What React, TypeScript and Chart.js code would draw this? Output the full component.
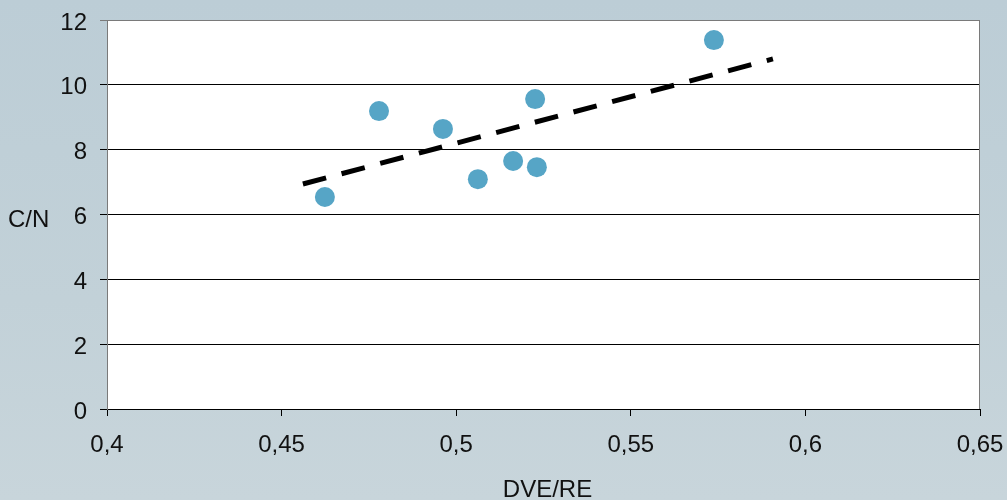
import React, { useEffect, useRef } from "react";
import { Chart, registerables } from "chart.js";

Chart.register(...registerables);

const xValues = [0.4624, 0.4779, 0.4962, 0.5062, 0.5163, 0.5226, 0.5231, 0.5738];
const yValues = [6.54, 9.19, 8.64, 7.09, 7.65, 9.56, 7.46, 11.38];
const trendX = [0.4561, 0.5907];
const trendY = [6.94, 10.8];
const xTicks = [0.4, 0.45, 0.5, 0.55, 0.6, 0.65];
const yTicks = [0, 2, 4, 6, 8, 10, 12];
const xTitle = "DVE/RE";
const yTitle = "C/N";

const FONT = "'Liberation Sans', Arial, sans-serif";
const FS = 24;

const fmt = (v: number) => Number(v.toFixed(2)).toString().replace(".", ",");

const framePlugin = {
  id: "framePlugin",
  beforeDraw(chart: any) {
    const { ctx, chartArea } = chart;
    ctx.save();
    ctx.fillStyle = "#ffffff";
    ctx.fillRect(chartArea.left, chartArea.top, chartArea.right - chartArea.left, chartArea.bottom - chartArea.top);
    ctx.restore();
  },
  afterDraw(chart: any) {
    const { ctx, chartArea } = chart;
    ctx.save();
    ctx.strokeStyle = "#7a7a7a";
    ctx.lineWidth = 1;
    ctx.beginPath();
    const rx = Math.round(chartArea.right) - 0.5;
    ctx.moveTo(rx, chartArea.top);
    ctx.lineTo(rx, chartArea.bottom);
    ctx.stroke();
    ctx.fillStyle = "#111111";
    ctx.font = `${FS}px ${FONT}`;
    ctx.textAlign = "left";
    ctx.textBaseline = "alphabetic";
    ctx.fillText(yTitle, 8, 227);
    ctx.textAlign = "center";
    ctx.fillText(xTitle, (chartArea.left + chartArea.right) / 2 + 4, 497);
    ctx.restore();
  },
};

export default function App() {
  const ref = useRef<HTMLCanvasElement | null>(null);
  useEffect(() => {
    if (!ref.current) return;
    const chart = new Chart(ref.current, {
      type: "scatter",
      data: {
        datasets: [
          {
            type: "scatter",
            data: xValues.map((x, i) => ({ x, y: yValues[i] })),
            backgroundColor: "#56a5c6",
            borderWidth: 0,
            pointRadius: 10,
            order: 2,
          },
          {
            type: "line",
            data: trendX.map((x, i) => ({ x, y: trendY[i] })),
            borderColor: "#000000",
            borderWidth: 5,
            borderDash: [24, 16],
            pointRadius: 0,
            fill: false,
            order: 1,
          } as any,
        ],
      },
      options: {
        animation: false,
        responsive: false,
        layout: { padding: { top: 20, right: 27, left: 0, bottom: 0 } },
        plugins: { legend: { display: false }, tooltip: { enabled: false } },
        scales: {
          x: {
            type: "linear",
            min: 0.4,
            max: 0.65,
            afterFit: (s: any) => {
              s.height = 91;
              s.paddingLeft = 0;
              s.paddingRight = 0;
            },
            afterBuildTicks: (s: any) => {
              s.ticks = xTicks.map((v) => ({ value: v }));
            },
            grid: { drawOnChartArea: false, drawTicks: true, tickLength: 7, color: "#000000" },
            border: { color: "#000000", width: 1 },
            ticks: {
              padding: 15,
              color: "#111111",
              font: { family: FONT, size: FS },
              callback: (v: any) => fmt(Number(v)),
            },
          },
          y: {
            type: "linear",
            min: 0,
            max: 12,
            afterFit: (s: any) => {
              s.width = 107;
              s.paddingTop = 0;
              s.paddingBottom = 0;
            },
            afterBuildTicks: (s: any) => {
              s.ticks = yTicks.map((v) => ({ value: v }));
            },
            grid: {
              drawTicks: true,
              tickLength: 7,
              color: (c: any) => (c.tick && c.tick.value === 12 ? "#7a7a7a" : "#000000"),
            },
            border: { color: "#7a7a7a", width: 1 },
            ticks: {
              padding: 13,
              labelOffset: 3,
              color: "#111111",
              font: { family: FONT, size: FS },
              callback: (v: any) => fmt(Number(v)),
            },
          },
        },
      },
      plugins: [framePlugin],
    });
    return () => chart.destroy();
  }, []);
  return (
    <div
      style={{
        position: "fixed",
        left: 0,
        top: 0,
        width: 1007,
        height: 500,
        background: "linear-gradient(180deg, #bccdd6 0%, #c2d1d8 60%, #c8d5db 100%)",
      }}
    >
      <canvas ref={ref} width={1007} height={500} style={{ display: "block" }} />
    </div>
  );
}
